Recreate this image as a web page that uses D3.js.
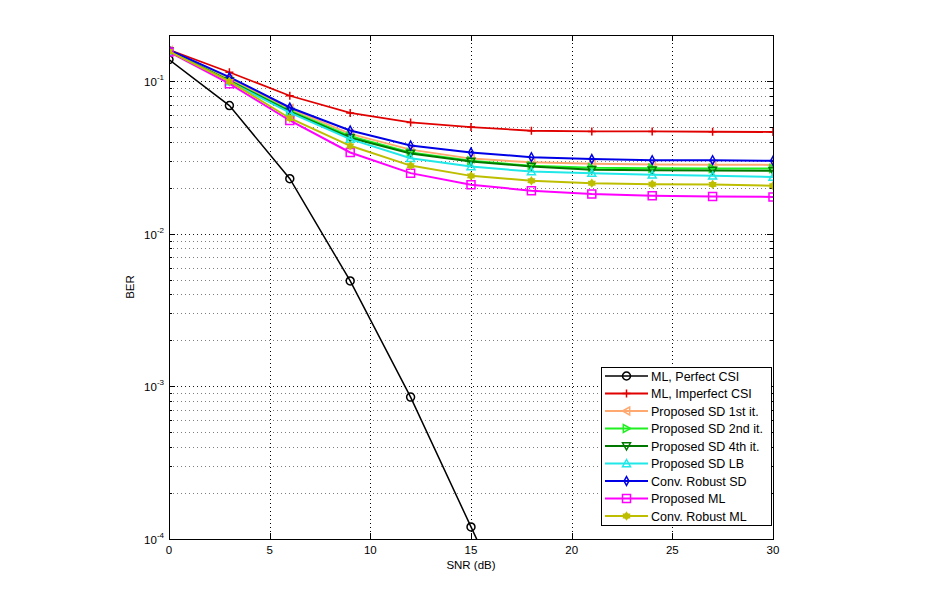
<!DOCTYPE html>
<html><head><meta charset="utf-8">
<script src="https://cdn.jsdelivr.net/npm/d3@7"></script>
<style>body{margin:0;background:#fff}svg{display:block}text{font-family:"Liberation Sans",Arial,sans-serif;fill:#000}</style>
</head><body><svg id="c" width="936" height="607"></svg>
<script>
const snr = [0,3,6,9,12,15,18,21,24,27,30];
const mlPerfect   = [0.138,0.069,0.0229,0.0049,0.00085,0.00012,0.000017];
const mlImperfect = [0.160,0.114,0.080,0.0617,0.0535,0.0499,0.0472,0.0467,0.0467,0.0465,0.0463];
const sd1st       = [0.158,0.103,0.066,0.045,0.0355,0.031,0.0293,0.0287,0.0284,0.0283,0.0282];
const sd2nd       = [0.157,0.101,0.064,0.0435,0.034,0.030,0.0278,0.0270,0.0268,0.0267,0.0267];
const sd4th       = [0.157,0.100,0.063,0.0425,0.0335,0.0297,0.0275,0.0262,0.0260,0.0259,0.0258];
const sdLB        = [0.156,0.099,0.062,0.0416,0.0312,0.0275,0.0255,0.0249,0.0243,0.0239,0.0235];
const convSD      = [0.160,0.106,0.067,0.0474,0.0378,0.034,0.0317,0.0308,0.0303,0.0303,0.0300];
const propML      = [0.155,0.096,0.0551,0.034,0.0249,0.0209,0.0191,0.0182,0.0177,0.0175,0.0174];
const convML      = [0.156,0.0993,0.057,0.0376,0.0279,0.0239,0.0222,0.0214,0.0211,0.0210,0.0206];
const seriesNames = ["ML, Perfect CSI","ML, Imperfect CSI","Proposed SD 1st it.","Proposed SD 2nd it.","Proposed SD 4th it.","Proposed SD LB","Conv. Robust SD","Proposed ML","Conv. Robust ML"];
const xTicks = [0,5,10,15,20,25,30];
const yTicks = [1e-4,1e-3,1e-2,1e-1];
const yTickExp = ["-4","-3","-2","-1"];

const series = [
 {name:seriesNames[0], data:mlPerfect,   color:"#000000", marker:"circle", w:1.5},
 {name:seriesNames[1], data:mlImperfect, color:"#e00000", marker:"plus", w:1.8},
 {name:seriesNames[2], data:sd1st,       color:"#ffa870", marker:"triL", w:2},
 {name:seriesNames[3], data:sd2nd,       color:"#20f020", marker:"triR", w:2},
 {name:seriesNames[4], data:sd4th,       color:"#007800", marker:"triD", w:2},
 {name:seriesNames[5], data:sdLB,        color:"#20e8e8", marker:"triU", w:2},
 {name:seriesNames[6], data:convSD,      color:"#0000e6", marker:"diamond", w:2},
 {name:seriesNames[7], data:propML,      color:"#ff00ff", marker:"square", w:2},
 {name:seriesNames[8], data:convML,      color:"#bebe00", marker:"hex", w:2}
];

const svg = d3.select("#c");
const L=169,R=773,T=35,B=539;
const x = d3.scaleLinear().domain([0,30]).range([L,R]);
const y = d3.scaleLog().domain([1e-4,0.2]).range([B,T]);

// grid
const g = svg.append("g");
const minor=[];
for(let e=-4;e<=-1;e++){for(let k=1;k<=9;k++){const v=k*Math.pow(10,e); if(v>=1e-4 && v<=0.2) minor.push(v);}}
g.selectAll(".hg").data(minor).enter().append("line")
 .attr("x1",L).attr("x2",R).attr("y1",d=>Math.round(y(d))+0.5).attr("y2",d=>Math.round(y(d))+0.5)
 .attr("stroke","#000").attr("stroke-width",1).attr("stroke-dasharray","1,3").attr("opacity",d=>{const m=d/Math.pow(10,Math.floor(Math.log10(d)+1e-9));return Math.abs(m-1)<1e-6?0.9:0.5;});
g.selectAll(".vg").data(xTicks.slice(1,-1)).enter().append("line")
 .attr("y1",T).attr("y2",B).attr("x1",d=>Math.round(x(d))+0.5).attr("x2",d=>Math.round(x(d))+0.5)
 .attr("stroke","#000").attr("stroke-width",1).attr("stroke-dasharray","1,3");

// ticks inside
const tk = svg.append("g").attr("stroke","#000").attr("stroke-width",1);
xTicks.forEach(t=>{const px=Math.round(x(t))+0.5;
 tk.append("line").attr("x1",px).attr("x2",px).attr("y1",B).attr("y2",B-6);
 tk.append("line").attr("x1",px).attr("x2",px).attr("y1",T).attr("y2",T+6);});
minor.forEach(v=>{const py=Math.round(y(v))+0.5;const m=v/Math.pow(10,Math.floor(Math.log10(v)+1e-9));const len=Math.abs(m-1)<1e-6?6:3;
 tk.append("line").attr("x1",L).attr("x2",L+len).attr("y1",py).attr("y2",py);
 tk.append("line").attr("x1",R).attr("x2",R-len).attr("y1",py).attr("y2",py);});

// clip
svg.append("clipPath").attr("id","clip").append("rect").attr("x",L).attr("y",T).attr("width",R-L).attr("height",B-T);

function markerPath(type,s){
 switch(type){
  case "circle": return d3.symbol(d3.symbolCircle,s*s*3.1)();
  case "plus": return `M${-s},0H${s}M0,${-s}V${s}`;
  case "triL": return `M${-s},0L${s*0.8},${-s}L${s*0.8},${s}Z`;
  case "triR": return `M${s},0L${-s*0.8},${-s}L${-s*0.8},${s}Z`;
  case "triD": return `M0,${s}L${-s},${-s*0.8}L${s},${-s*0.8}Z`;
  case "triU": return `M0,${-s}L${-s},${s*0.8}L${s},${s*0.8}Z`;
  case "diamond": return `M0,${-s*1.1}L${s*0.6},0L0,${s*1.1}L${-s*0.6},0Z`;
  case "square": return `M${-s},${-s}H${s}V${s}H${-s}Z`;
  case "hex": { let p=[]; for(let i=0;i<12;i++){const r=i%2?s*0.55:s*0.85; const a=Math.PI/6*i-Math.PI/2; p.push([r*Math.cos(a),r*Math.sin(a)]);} return "M"+p.map(q=>q.join(",")).join("L")+"Z"; }
 }
}

const plot = svg.append("g").attr("clip-path","url(#clip)");
const line = d3.line().x((d,i)=>x(snr[i])).y(d=>y(d));
series.forEach(s=>{
 plot.append("path").datum(s.data).attr("d",line).attr("fill","none").attr("stroke",s.color).attr("stroke-width",s.w);
 plot.selectAll(null).data(s.data).enter().append("path")
  .attr("transform",(d,i)=>`translate(${x(snr[i])},${y(d)})`)
  .attr("d",markerPath(s.marker,4))
  .attr("fill",s.marker==="hex"?s.color:"none").attr("stroke",s.color).attr("stroke-width",1.5);
});

// box
svg.append("rect").attr("x",L+0.5).attr("y",T+0.5).attr("width",R-L).attr("height",B-T).attr("fill","none").attr("stroke","#000").attr("stroke-width",1);

// tick labels
xTicks.forEach(t=>svg.append("text").attr("x",x(t)).attr("y",B+15).attr("text-anchor","middle").attr("font-size",11.5).text(t));
yTicks.forEach((v,i)=>{
 const t=svg.append("text").attr("x",L-5).attr("y",y(v)+5).attr("text-anchor","end").attr("font-size",11.5);
 t.append("tspan").text("10");
 t.append("tspan").attr("dy",-6).attr("font-size",8).text(yTickExp[i]);
});
svg.append("text").attr("x",(L+R)/2).attr("y",B+30).attr("text-anchor","middle").attr("font-size",11.5).text("SNR (dB)");
svg.append("text").attr("transform",`translate(134,287) rotate(-90)`).attr("text-anchor","middle").attr("font-size",11.5).text("BER");

// legend
const lg = svg.append("g");
lg.append("rect").attr("x",601.5).attr("y",367.5).attr("width",170).attr("height",158).attr("fill","#fff").attr("stroke","#000");
series.forEach((s,i)=>{
 const cy=376+i*17.5;
 lg.append("line").attr("x1",605).attr("x2",648).attr("y1",cy).attr("y2",cy).attr("stroke",s.color).attr("stroke-width",s.w);
 lg.append("path").attr("transform",`translate(626.5,${cy})`).attr("d",markerPath(s.marker,4))
  .attr("fill",s.marker==="hex"?s.color:"none").attr("stroke",s.color).attr("stroke-width",1.5);
 lg.append("text").attr("x",651).attr("y",cy+4.5).attr("font-size",12.5).attr("textLength",s.name.length>0?null:null).text(s.name);
});
</script></body></html>
